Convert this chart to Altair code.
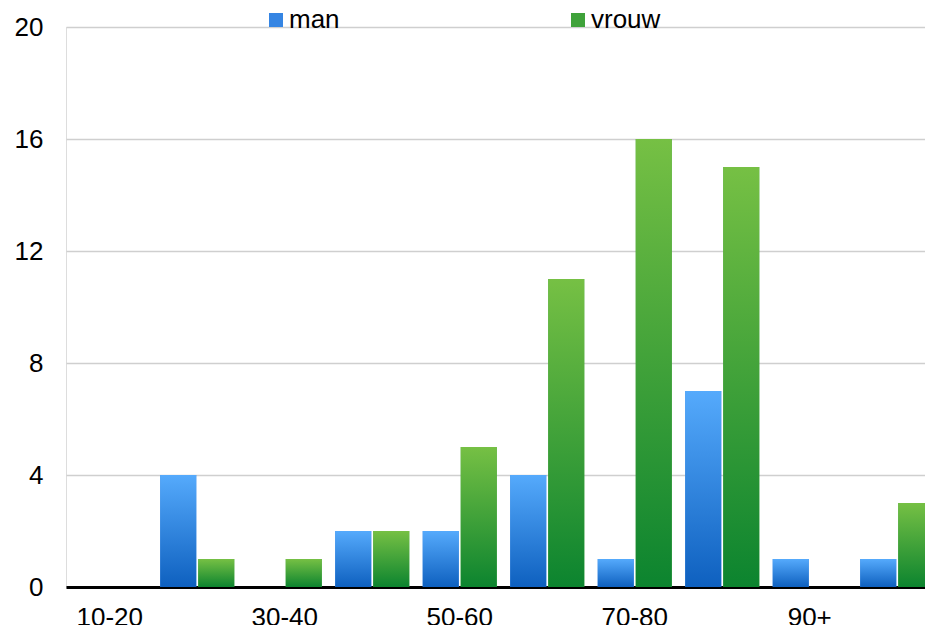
import altair as alt
import pandas as pd

groups = ["10-20", "20-30", "30-40", "40-50", "50-60", "60-70", "70-80", "80-90", "90+", "onbekend"]
man = [0, 4, 0, 2, 2, 4, 1, 7, 1, 1]
vrouw = [0, 1, 1, 2, 5, 11, 16, 15, 0, 3]
shown_labels = ["10-20", "30-40", "50-60", "70-80", "90+"]
y_ticks = [0, 4, 8, 12, 16, 20]

rows = []
for g, m, v in zip(groups, man, vrouw):
    rows.append({"leeftijd": g, "geslacht": "man", "aantal": m})
    rows.append({"leeftijd": g, "geslacht": "vrouw", "aantal": v})
df = pd.DataFrame(rows)

FONT = "Liberation Sans"

blue_grad = alt.LinearGradient(
    gradient="linear", x1=0, y1=0, x2=0, y2=1,
    stops=[alt.GradientStop(offset=0, color="#55aafc"),
           alt.GradientStop(offset=1, color="#0e60bf")],
)
green_grad = alt.LinearGradient(
    gradient="linear", x1=0, y1=0, x2=0, y2=1,
    stops=[alt.GradientStop(offset=0, color="#76c044"),
           alt.GradientStop(offset=1, color="#0c842f")],
)

x_enc = alt.X(
    "leeftijd:N", sort=groups, title=None,
    scale=alt.Scale(domain=groups, range=[0, 875], paddingInner=0.154, paddingOuter=0.077),
    axis=alt.Axis(values=shown_labels, labelAngle=0, labelFontSize=26, labelFont=FONT,
                  labelColor="#000000", ticks=False, labelPadding=17,
                  domainColor="#000000", domainWidth=3, grid=False),
)
y_enc = alt.Y(
    "aantal:Q", title=None,
    scale=alt.Scale(domain=[0, 20], nice=False),
    axis=alt.Axis(values=y_ticks, labelFontSize=26, labelFont=FONT, labelColor="#000000",
                  ticks=False, domain=False, labelPadding=23,
                  gridColor="#cfcfcf", gridWidth=1.5),
)
xoff = alt.XOffset("geslacht:N", sort=["man", "vrouw"],
                   scale=alt.Scale(paddingInner=0.0526, paddingOuter=0))

base = alt.Chart(df).mark_bar().encode(
    x=x_enc, y=y_enc, xOffset=xoff,
    color=alt.Color(
        "geslacht:N",
        scale=alt.Scale(domain=["man", "vrouw"], range=["#3585e3", "#3fa23a"]),
        legend=alt.Legend(
            title=None, orient="none", legendX=197, legendY=-20, direction="horizontal",
            columns=2, columnPadding=225, symbolType="square", symbolSize=196,
            symbolStrokeWidth=0, labelFontSize=26, labelFont=FONT, labelColor="#000000",
            labelOffset=0,
        ),
    ),
)

overlay = alt.Chart(df).mark_bar().encode(
    x=x_enc, y=y_enc, xOffset=xoff,
    color=alt.condition(alt.datum.geslacht == "man", alt.value(blue_grad), alt.value(green_grad)),
)

chart = alt.layer(base, overlay).properties(
    width=859, height=560,
    autosize=alt.AutoSizeParams(type="none"),
    padding={"left": 58, "top": 19, "right": 0, "bottom": 38},
).configure_view(stroke=None).configure(font=FONT)

chart.save("out.html", embed_options={"renderer": "svg", "actions": False})
